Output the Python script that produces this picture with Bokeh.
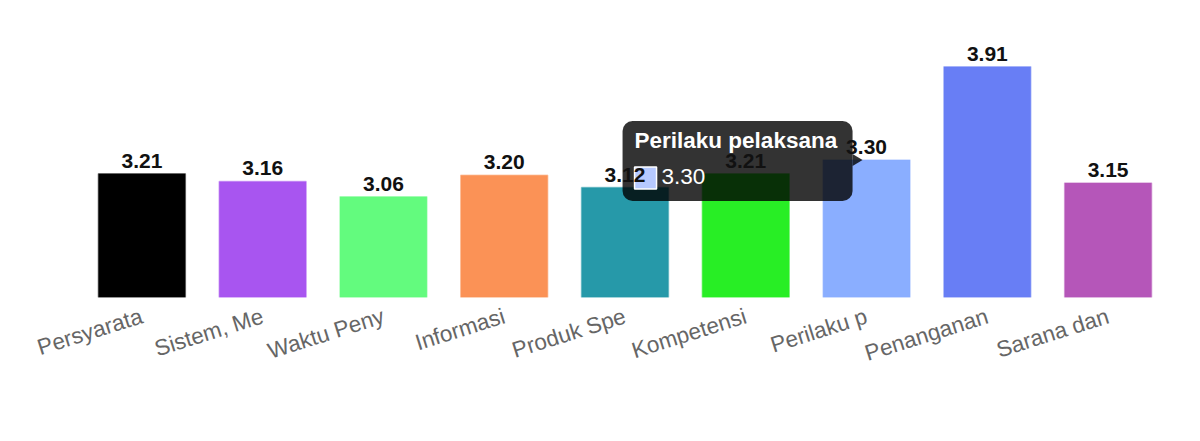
import math
from bokeh.plotting import figure
from bokeh.models import FactorRange, Range1d, ColumnDataSource
from bokeh.core.properties import value
from bokeh.embed import file_html
from bokeh.resources import INLINE

# ---- data ----
categories = ["Persyarata", "Sistem, Me", "Waktu Peny", "Informasi", "Produk Spe",
              "Kompetensi", "Perilaku p", "Penanganan", "Sarana dan"]
values = [3.21, 3.16, 3.06, 3.20, 3.12, 3.21, 3.30, 3.91, 3.15]
colors = ["#000000", "#a855f0", "#63fb7e", "#fb9256", "#2699a9",
          "#28ee25", "#8aaeff", "#687ef5", "#b556b9"]
value_labels = [f"{v:.2f}" for v in values]

tooltip_category = "Perilaku p"
tooltip_title = "Perilaku pelaksana"

# ---- layout ----
W, H = 1184, 425
BL, BR, BT, BB = 81, 16, 22, 128
Y0, Y1 = 2.4, 4.2
FONT = "Liberation Sans"

p = figure(x_range=FactorRange(*categories), y_range=Range1d(Y0, Y1),
           width=W, height=H, output_backend="svg", toolbar_location=None,
           tools="", y_axis_location=None,
           min_border_left=BL, min_border_right=BR, min_border_top=BT,
           min_border_bottom=BB)
p.grid.visible = False
p.outline_line_color = None
p.background_fill_color = "white"
p.border_fill_color = "white"

ax = p.xaxis[0]
ax.axis_line_color = None
ax.major_tick_line_color = None
ax.minor_tick_line_color = None
ax.major_tick_out = 0
ax.major_tick_in = 0
ax.major_label_orientation = math.radians(17.5)
ax.major_label_standoff = 18
ax.major_label_text_font = FONT
ax.major_label_text_font_size = "22.5px"
ax.major_label_text_color = "#666666"

src = ColumnDataSource(dict(cat=categories, val=values, color=colors, label=value_labels))

p.vbar(x="cat", top="val", width=0.72, fill_color="color", line_color="color",
       line_alpha=0.45, line_width=1.5, source=src)

# ---- tooltip (anchored on the hovered bar) ----
pxx = (W - BL - BR) / len(categories)
pxy = (H - BT - BB) / (Y1 - Y0)
ti = categories.index(tooltip_category)
ax0 = ti + 0.5
ay0 = values[ti]

def dx(px):
    return ax0 + px / pxx

def dy(px):
    return ay0 - px / pxy

p.quad(left=[dx(-244)], right=[dx(-14)], top=[dy(-39)], bottom=[dy(41)],
       fill_color="black", fill_alpha=0.8, line_color=None, border_radius=10)
p.patch(x=[dx(-14), dx(-4), dx(-14)], y=[dy(-6), dy(0), dy(6)],
        fill_color="black", fill_alpha=0.8, line_color=None)
p.text(x=[dx(-232)], y=[dy(-20)], text=[tooltip_title], text_font=value(FONT),
       text_font_style="bold", text_font_size="22.5px", text_color="white",
       text_align="left", text_baseline="alphabetic")
p.rect(x=[dx(-221)], y=[dy(18)], width=22, height=22, width_units="screen",
       height_units="screen", fill_color="#b6c9ff", line_color="white", line_width=1.5)
p.text(x=[dx(-205)], y=[dy(16)], text=[value_labels[ti]], text_font=value(FONT),
       text_font_size="22.5px", text_color="white",
       text_align="left", text_baseline="alphabetic")

# ---- value labels (drawn on top) ----
p.text(x="cat", y="val", text="label", source=src, text_align="center",
       text_baseline="alphabetic", y_offset=-13, text_font=value(FONT),
       text_font_style="bold", text_font_size="21px", text_color="#111111")

open("out.html", "w").write(file_html(p, INLINE))
